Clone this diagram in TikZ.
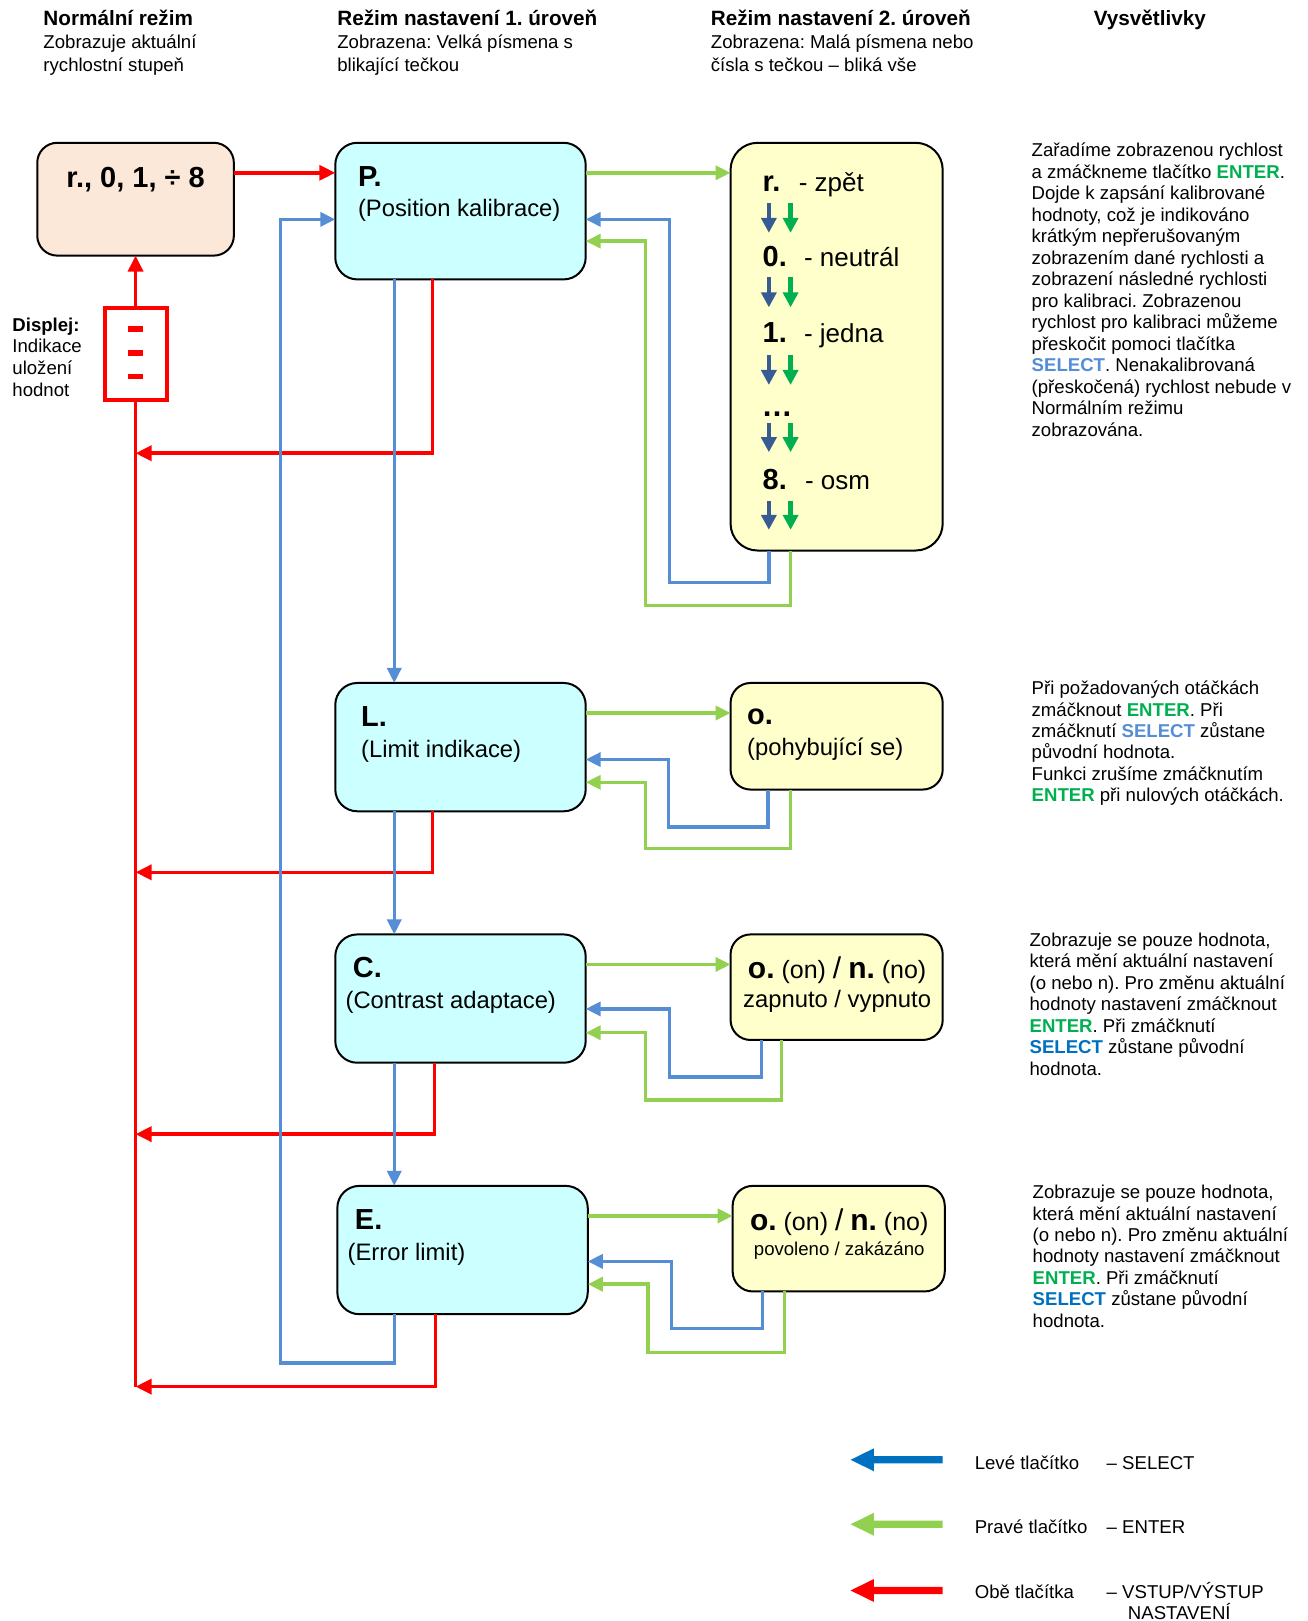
\documentclass[tikz,border=0pt]{standalone}
\usepackage{fontspec}
\setmainfont{Liberation Sans}
\usetikzlibrary{arrows.meta,fit}
\definecolor{peach}{HTML}{FCE8D9}
\definecolor{cyanbox}{HTML}{CCFFFF}
\definecolor{yelbox}{HTML}{FFFFCC}
\definecolor{cred}{HTML}{FF0000}
\definecolor{cblue}{HTML}{558ED5}
\definecolor{cgreen}{HTML}{92D050}
\definecolor{dblue}{HTML}{375C93}
\definecolor{egreen}{HTML}{00B050}
\definecolor{sblue}{HTML}{0070C0}
\newcommand\fs[1]{\fontsize{#1}{#1}\selectfont}
\newcommand\EN{\textcolor{egreen}{\textbf{ENTER}}}
\newcommand\SELa{\textcolor{cblue}{\textbf{SELECT}}}
\newcommand\SELb{\textcolor{sblue}{\textbf{SELECT}}}
\tikzset{
  box/.style={draw=black, line width=2pt, inner sep=0pt, outer sep=0pt, rounded corners=22pt},
  tx/.style={anchor=base west, inner sep=0pt, outer sep=0pt},
  tc/.style={anchor=base, inner sep=0pt, outer sep=0pt},
  rt/.style={tx, font=\fs{18.6}},
  conn/.style={line width=3.5pt, line join=miter},
  rline/.style={conn, draw=cred},
  rarr/.style={rline, -{Triangle[length=16pt,width=15pt]}},
  barr/.style={conn, draw=cblue, -{Triangle[length=15pt,width=14pt]}},
  garr/.style={conn, draw=cgreen, -{Triangle[length=15pt,width=14pt]}},
  darr/.style={line width=4.3pt, draw=dblue, -{Triangle[length=15pt,width=15pt]}},
  earr/.style={line width=4.3pt, draw=egreen, -{Triangle[length=15pt,width=15pt]}},
}
\begin{document}
\frenchspacing
\begin{tikzpicture}[x=1.0348pt, y=-1.0348pt]
\useasboundingbox (0,0) rectangle (1264,1566.5);
\fill[white] (0,0) rectangle (1264,1566.5);

% headers
\node[tx, font=\fs{20.7}\bfseries] (h1) at (42,25) {Normální režim};
\node[tx, font=\fs{18.6}] (h1a) at (42,47) {Zobrazuje aktuální};
\node[tx, font=\fs{18.6}] (h1b) at (42,69) {rychlostní stupeň};
\node[tx, font=\fs{20.7}\bfseries] (h2) at (326,25) {Režim nastavení 1. úroveň};
\node[tx, font=\fs{18.6}] (h2a) at (326,47) {Zobrazena: Velká písmena s};
\node[tx, font=\fs{18.6}] (h2b) at (326,69) {blikající tečkou};
\node[tx, font=\fs{20.7}\bfseries] (h3) at (687,25) {Režim nastavení 2. úroveň};
\node[tx, font=\fs{18.6}] (h3a) at (687,47) {Zobrazena: Malá písmena nebo};
\node[tx, font=\fs{18.6}] (h3b) at (687,69) {čísla s tečkou – bliká vše};
\node[tx, font=\fs{20.7}\bfseries] (h4) at (1057,25) {Vysvětlivky};

% boxes
\node[box, fill=peach, rounded corners=20pt, fit={(36,138) (226,247)}] (N) {};
\node[box, fill=cyanbox, fit={(324,138) (566,270)}] (P) {};
\node[box, fill=yelbox, rounded corners=27pt, fit={(706,138) (911,532)}] (Y1) {};
\node[box, fill=cyanbox, fit={(324,660) (566,784)}] (L) {};
\node[box, fill=yelbox, rounded corners=20pt, fit={(706,660) (911,763)}] (Y2) {};
\node[box, fill=cyanbox, fit={(324,903) (566,1027)}] (C) {};
\node[box, fill=yelbox, rounded corners=20pt, fit={(706,903) (911,1005)}] (Y3) {};
\node[box, fill=cyanbox, fit={(326,1146) (568,1270)}] (E) {};
\node[box, fill=yelbox, rounded corners=20pt, fit={(708,1146) (913,1248)}] (Y4) {};
\node[draw=cred, line width=4pt, inner sep=0pt, outer sep=0pt, fit={(101,298) (161,387)}] (D) {};
\draw[cred, line width=5.5pt] (124,318) -- (138,318);
\draw[cred, line width=5.5pt] (124,341) -- (138,341);
\draw[cred, line width=5.5pt] (124,364) -- (138,364);

% box texts
\node[tc, font=\fs{29}\bfseries] (nt) at (131,181) {r., 0, 1, ÷ 8};
\node[tx, font=\fs{29}\bfseries] (pt1) at (346,180) {P.};
\node[tx, font=\fs{23.8}] (pt2) at (346,209) {(Position kalibrace)};
\node[tx, font=\fs{29}\bfseries] (lt1) at (349,702) {L.};
\node[tx, font=\fs{23.8}] (lt2) at (349,732) {(Limit indikace)};
\node[tx, font=\fs{29}\bfseries] (ct1) at (341,945) {C.};
\node[tx, font=\fs{23.8}] (ct2) at (334,975) {(Contrast adaptace)};
\node[tx, font=\fs{29}\bfseries] (et1) at (343,1188) {E.};
\node[tx, font=\fs{23.8}] (et2) at (336,1218) {(Error limit)};

\node[tx, font=\fs{29}\bfseries] (y1a) at (737,185.5) {r.};
\node[tx, font=\fs{26}] (y1b) at (772,185.5) {- zpět};
\node[tx, font=\fs{29}\bfseries] (y1c) at (737,257.7) {0.};
\node[tx, font=\fs{26}] (y1d) at (777,257.7) {- neutrál};
\node[tx, font=\fs{29}\bfseries] (y1e) at (737,330.5) {1.};
\node[tx, font=\fs{26}] (y1f) at (777,330.5) {- jedna};
\node[tx, font=\fs{31}\bfseries] (y1g) at (736,402.5) {…};
\node[tx, font=\fs{29}\bfseries] (y1h) at (737,473.5) {8.};
\node[tx, font=\fs{26}] (y1i) at (778,473.5) {- osm};
\foreach \a/\b in {196/225, 268/297, 343/372, 409/437, 484/512} {
  \draw[darr] (743,\a) -- (743,\b);
  \draw[earr] (764,\a) -- (764,\b);
}

\node[tx, font=\fs{29}\bfseries] (y2a) at (722,700) {o.};
\node[tx, font=\fs{23.8}] (y2b) at (722,730) {(pohybující se)};
\node[tc] (y3a) at (809,946) {\fs{30}\bfseries o.\fs{25}\mdseries{} (on) \fs{30}/\fs{25} \fs{30}\bfseries n.\fs{25}\mdseries{} (no)};
\node[tc, font=\fs{23.8}] (y3b) at (809,974) {zapnuto / vypnuto};
\node[tc] (y4a) at (811,1189) {\fs{30}\bfseries o.\fs{25}\mdseries{} (on) \fs{30}/\fs{25} \fs{30}\bfseries n.\fs{25}\mdseries{} (no)};
\node[tc, font=\fs{18.6}] (y4b) at (811,1213) {povoleno / zakázáno};

% display label
\node[tx, font=\fs{18.6}\bfseries] (dl1) at (12,320) {Displej:};
\node[tx, font=\fs{18.6}] (dl2) at (12,341) {Indikace};
\node[tx, font=\fs{18.6}] (dl3) at (12,362) {uložení};
\node[tx, font=\fs{18.6}] (dl4) at (12,383) {hodnot};

% red connectors
\coordinate (trunk) at (131,1340);
\draw[rarr] (N.east |- 0,167) -- (P.west |- 0,167);
\draw[rarr] (D.north) -- (N.south);
\draw[rline] (D.south) -- (trunk);
\draw[rarr] (P.south -| 418,0) |- (D.center |- 0,438);
\draw[rarr] (L.south -| 418,0) |- (D.center |- 0,843);
\draw[rarr] (C.south -| 420,0) |- (D.center |- 0,1096);
\draw[rarr] (E.south -| 421,0) |- (trunk);

% blue main chain
\draw[barr] (P.south -| 381,0) -- (L.north -| 381,0);
\draw[barr] (L.south -| 381,0) -- (C.north -| 381,0);
\draw[barr] (C.south -| 381,0) -- (E.north -| 381,0);
\draw[barr] (E.south -| 381,0) -- (381,1317) -- (271,1317) -- (271,212) -- (P.west |- 0,212);

% P level
\draw[garr] (P.east |- 0,167) -- (Y1.west |- 0,167);
\draw[barr] (Y1.south -| 743,0) -- (743,563) -- (647,563) -- (647,212) -- (P.east |- 0,212);
\draw[garr] (Y1.south -| 764,0) -- (764,585) -- (624,585) -- (624,233) -- (P.east |- 0,233);
% L level
\draw[garr] (L.east |- 0,689) -- (Y2.west |- 0,689);
\draw[barr] (Y2.south -| 742,0) -- (742,799) -- (646,799) -- (646,734) -- (L.east |- 0,734);
\draw[garr] (Y2.south -| 764,0) -- (764,820) -- (624,820) -- (624,756) -- (L.east |- 0,756);
% C level
\draw[garr] (C.east |- 0,932) -- (Y3.west |- 0,932);
\draw[barr] (Y3.south -| 736,0) -- (736,1041) -- (647,1041) -- (647,975) -- (C.east |- 0,975);
\draw[garr] (Y3.south -| 755,0) -- (755,1063) -- (624,1063) -- (624,998) -- (C.east |- 0,998);
% E level
\draw[garr] (E.east |- 0,1175) -- (Y4.west |- 0,1175);
\draw[barr] (Y4.south -| 737,0) -- (737,1284) -- (649,1284) -- (649,1219) -- (E.east |- 0,1219);
\draw[garr] (Y4.south -| 758,0) -- (758,1307) -- (626,1307) -- (626,1241) -- (E.east |- 0,1241);

% explanation blocks
\foreach \t [count=\i from 0] in {{Zařadíme zobrazenou rychlost},{a zmáčkneme tlačítko \EN.},{Dojde k zapsání kalibrované},{hodnoty, což je indikováno},{krátkým nepřerušovaným},{zobrazením dané rychlosti a},{zobrazení následné rychlosti},{pro kalibraci. Zobrazenou},{rychlost pro kalibraci můžeme},{přeskočit pomoci tlačítka},{\SELa. Nenakalibrovaná},{(přeskočená) rychlost nebude v},{Normálním režimu},{zobrazována.}}
  \node[rt] (ra\i) at (997,151.4+20.77*\i) {\t};
\foreach \t [count=\i from 0] in {{Při požadovaných otáčkách},{zmáčknout \EN. Při},{zmáčknutí \SELa{} zůstane},{původní hodnota.},{Funkci zrušíme zmáčknutím},{\EN{} při nulových otáčkách.}}
  \node[rt] (rb\i) at (997,671.4+20.6*\i) {\t};
\foreach \t [count=\i from 0] in {{Zobrazuje se pouze hodnota,},{která mění aktuální nastavení},{(o nebo n). Pro změnu aktuální},{hodnoty nastavení zmáčknout},{\EN. Při zmáčknutí},{\SELb{} zůstane původní},{hodnota.}}
  \node[rt] (rc\i) at (995,914.4+20.8*\i) {\t};
\foreach \t [count=\i from 0] in {{Zobrazuje se pouze hodnota,},{která mění aktuální nastavení},{(o nebo n). Pro změnu aktuální},{hodnoty nastavení zmáčknout},{\EN. Při zmáčknutí},{\SELb{} zůstane původní},{hodnota.}}
  \node[rt] (rd\i) at (998,1158.4+20.7*\i) {\t};

% legend
\fill[sblue] (911,1407.2) -- (844.6,1407.2) -- (844.6,1399.6) -- (822,1410.7) -- (844.6,1421.8) -- (844.6,1414.2) -- (911,1414.2) -- cycle;
\fill[cgreen] (911,1469.5) -- (844.6,1469.5) -- (844.6,1461.9) -- (822,1473) -- (844.6,1484.1) -- (844.6,1476.5) -- (911,1476.5) -- cycle;
\fill[cred] (911,1533.5) -- (844.6,1533.5) -- (844.6,1525.9) -- (822,1537) -- (844.6,1548.1) -- (844.6,1540.5) -- (911,1540.5) -- cycle;
\node[rt] (lg1) at (942,1420) {Levé tlačítko};
\node[rt] (lg1b) at (1069.5,1420) {– SELECT};
\node[rt] (lg2) at (942,1481.8) {Pravé tlačítko};
\node[rt] (lg2b) at (1069.5,1481.8) {– ENTER};
\node[rt] (lg3) at (942,1544.6) {Obě tlačítka};
\node[rt] (lg3b) at (1069.5,1544.6) {– VSTUP/VÝSTUP};
\node[rt] (lg3c) at (1090,1565) {NASTAVENÍ};
\end{tikzpicture}
\end{document}
